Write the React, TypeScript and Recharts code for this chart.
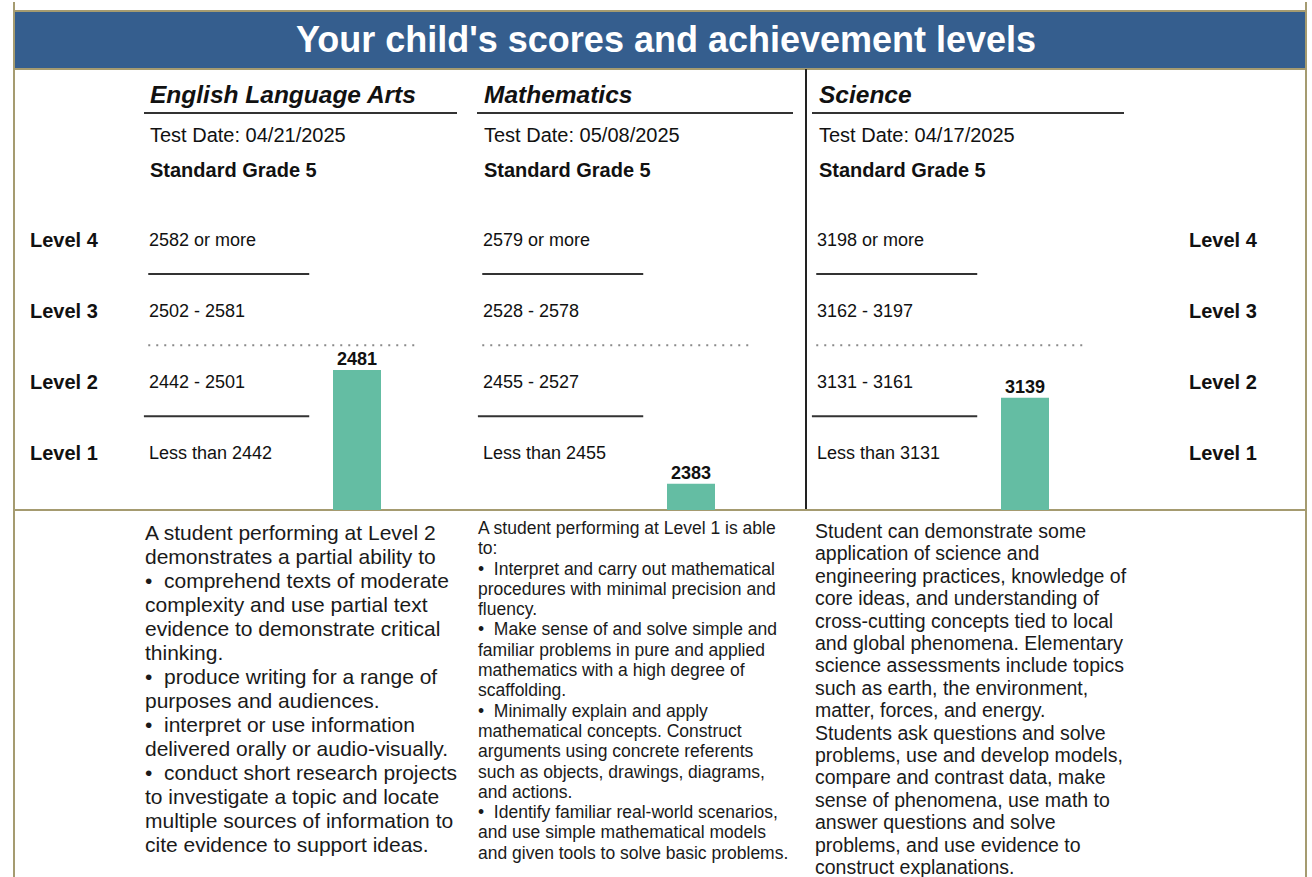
import { ComposedChart, Bar, XAxis, YAxis, ReferenceLine, LabelList } from "recharts";

const SUBJECTS = ["English Language Arts", "Mathematics", "Science"];
const TEST_DATES = ["04/21/2025", "05/08/2025", "04/17/2025"];
const GRADE_LABEL = "Standard Grade 5";
const SCORES = [2481, 2383, 3139];
// first score of level 2, 3 and 4 for each subject
const CUT_SCORES = [
  [2442, 2502, 2582],
  [2455, 2528, 2579],
  [3131, 3162, 3198],
];
// bottom of the level 1 band (estimated, not printed)
const SCALE_FLOORS = [2363, 2355, 3090];
const LEVELS = ["Level 1", "Level 2", "Level 3", "Level 4"];
const RANGE_LABELS = [
  ["Less than 2442", "2442 - 2501", "2502 - 2581", "2582 or more"],
  ["Less than 2455", "2455 - 2527", "2528 - 2578", "2579 or more"],
  ["Less than 3131", "3131 - 3161", "3162 - 3197", "3198 or more"],
];
const DESCRIPTIONS = [
  [
    "A student performing at Level 2",
    "demonstrates a partial ability to",
    "•  comprehend texts of moderate",
    "complexity and use partial text",
    "evidence to demonstrate critical",
    "thinking.",
    "•  produce writing for a range of",
    "purposes and audiences.",
    "•  interpret or use information",
    "delivered orally or audio-visually.",
    "•  conduct short research projects",
    "to investigate a topic and locate",
    "multiple sources of information to",
    "cite evidence to support ideas.",
  ],
  [
    "A student performing at Level 1 is able",
    "to:",
    "•  Interpret and carry out mathematical",
    "procedures with minimal precision and",
    "fluency.",
    "•  Make sense of and solve simple and",
    "familiar problems in pure and applied",
    "mathematics with a high degree of",
    "scaffolding.",
    "•  Minimally explain and apply",
    "mathematical concepts. Construct",
    "arguments using concrete referents",
    "such as objects, drawings, diagrams,",
    "and actions.",
    "•  Identify familiar real-world scenarios,",
    "and use simple mathematical models",
    "and given tools to solve basic problems.",
  ],
  [
    "Student can demonstrate some",
    "application of science and",
    "engineering practices, knowledge of",
    "core ideas, and understanding of",
    "cross-cutting concepts tied to local",
    "and global phenomena. Elementary",
    "science assessments include topics",
    "such as earth, the environment,",
    "matter, forces, and energy.",
    "Students ask questions and solve",
    "problems, use and develop models,",
    "compare and contrast data, make",
    "sense of phenomena, use math to",
    "answer questions and solve",
    "problems, and use evidence to",
    "construct explanations.",
  ],
];

const FONT = '"Liberation Sans", Arial, sans-serif';
const BLUE = "#355e8e";
const KHAKI = "#a59b70";
const BAR = "#64bda3";

// level 1 band is drawn taller than the others (in level units)
const L1_SPAN = 1.32;
const TOP = L1_SPAN + 3;

function levelPos(score: number, cuts: number[], floor: number) {
  if (score < cuts[0]) return (L1_SPAN * (score - floor)) / (cuts[0] - floor);
  for (let k = 0; k < cuts.length - 1; k++) {
    if (score < cuts[k + 1]) {
      return L1_SPAN + k + (score - cuts[k]) / (cuts[k + 1] - cuts[k]);
    }
  }
  const w = cuts[2] - cuts[1];
  return Math.min(L1_SPAN + 2 + (score - cuts[2]) / w, TOP);
}

const data = SUBJECTS.map((s, i) => ({
  subject: s,
  idx: i,
  score: SCORES[i],
  pos: levelPos(SCORES[i], CUT_SCORES[i], SCALE_FLOORS[i]),
}));

// middle of each level band
const LEVEL_TICKS = LEVELS.map((_, k) => L1_SPAN - 0.5 + k);

const COL_STEP = 334;
const RANGE_X = 149;
const DESC_X = [145, 478, 815];
const DESC_STYLE = [
  { top: 521, fontSize: 21, lineHeight: "24px" },
  { top: 518, fontSize: 17.5, lineHeight: "20.3px" },
  { top: 520, fontSize: 19.5, lineHeight: "22.4px" },
];
const TITLE_X = [150, 484, 819];
const UNDERLINE = [
  [144, 457],
  [477, 793],
  [812, 1124],
];

// eslint-disable-next-line @typescript-eslint/no-explicit-any
function LevelTick({ y, index }: any) {
  const k = index as number;
  return (
    <g fontFamily={FONT}>
      <text x={30} y={y + 1.5} dominantBaseline="central" fontSize={20} fontWeight="bold" fill="#111">
        {LEVELS[k]}
      </text>
      <text x={1189} y={y + 1.5} dominantBaseline="central" fontSize={20} fontWeight="bold" fill="#111">
        {LEVELS[k]}
      </text>
      {RANGE_LABELS.map((r, i) => (
        <text
          key={i}
          x={RANGE_X + COL_STEP * i}
          y={y + 1.5}
          dominantBaseline="central"
          fontSize={18}
          fill="#111"
        >
          {r[k]}
        </text>
      ))}
    </g>
  );
}

const abs = (style: React.CSSProperties): React.CSSProperties => ({
  position: "absolute",
  ...style,
});

export default function App() {
  // level boundary rules per subject, x offsets from the column centre
  const rules = [
    { k: 0, from: -0.638, to: -0.143, dashed: false },
    { k: 1, from: -0.625, to: 0.189, dashed: true },
    { k: 2, from: -0.625, to: -0.143, dashed: false },
  ];

  return (
    <div
      style={abs({
        left: 0,
        top: 0,
        width: 1312,
        height: 877,
        background: "#fff",
        fontFamily: FONT,
        color: "#111",
        overflow: "hidden",
      })}
    >
      {/* frame */}
      <div style={abs({ left: 13, top: 2, width: 2, height: 875, background: KHAKI })} />
      <div style={abs({ left: 1305, top: 2, width: 2, height: 875, background: KHAKI })} />
      <div style={abs({ left: 14, top: 10, width: 1292, height: 2, background: KHAKI })} />
      <div
        style={abs({
          left: 15,
          top: 12,
          width: 1290,
          height: 56,
          background: BLUE,
          color: "#fff",
          fontSize: 36,
          fontWeight: "bold",
          lineHeight: "56px",
          textAlign: "center",
          paddingLeft: 12,
          boxSizing: "border-box",
        })}
      >
        Your child's scores and achievement levels
      </div>
      <div style={abs({ left: 14, top: 68, width: 1292, height: 2, background: KHAKI })} />
      <div style={abs({ left: 14, top: 508.5, width: 1292, height: 2, background: KHAKI })} />
      <div style={abs({ left: 805, top: 69, width: 2, height: 440, background: "#222" })} />

      {SUBJECTS.map((s, i) => (
        <div key={s}>
          <div
            style={abs({
              left: TITLE_X[i],
              top: 80,
              fontSize: 24.5,
              fontWeight: "bold",
              fontStyle: "italic",
              lineHeight: "30px",
              whiteSpace: "nowrap",
            })}
          >
            {s}
          </div>
          <div
            style={abs({
              left: UNDERLINE[i][0],
              top: 112,
              width: UNDERLINE[i][1] - UNDERLINE[i][0],
              height: 2,
              background: "#333",
            })}
          />
          <div style={abs({ left: TITLE_X[i], top: 123, fontSize: 20, lineHeight: "24px", whiteSpace: "nowrap" })}>
            Test Date: {TEST_DATES[i]}
          </div>
          <div
            style={abs({
              left: TITLE_X[i],
              top: 158,
              fontSize: 20,
              fontWeight: "bold",
              lineHeight: "24px",
              whiteSpace: "nowrap",
            })}
          >
            {GRADE_LABEL}
          </div>
          <div
            style={abs({
              left: DESC_X[i],
              top: DESC_STYLE[i].top,
              fontSize: DESC_STYLE[i].fontSize,
              lineHeight: DESC_STYLE[i].lineHeight,
              whiteSpace: "pre",
              color: "#1a1a1a",
            })}
          >
            {DESCRIPTIONS[i].join("\n")}
          </div>
        </div>
      ))}

      <div style={abs({ left: 0, top: 0 })}>
        <ComposedChart
          width={1312}
          height={510}
          data={data}
          margin={{ top: 203, right: 120, bottom: 0, left: 14 }}
        >
          <XAxis xAxisId="cat" dataKey="subject" type="category" hide />
          <XAxis
            xAxisId="col"
            dataKey="idx"
            type="number"
            domain={[-0.5, 2.5]}
            allowDataOverflow
            hide
          />
          <YAxis
            domain={[0, TOP]}
            allowDataOverflow
            ticks={LEVEL_TICKS}
            width={176}
            axisLine={false}
            tickLine={false}
            tick={<LevelTick />}
            interval={0}
          />
          {data.map((d) =>
            rules.map((r) => (
              <ReferenceLine
                key={`${d.idx}-${r.k}`}
                xAxisId="col"
                ifOverflow="visible"
                segment={[
                  { x: d.idx + r.from, y: L1_SPAN + r.k },
                  { x: d.idx + r.to, y: L1_SPAN + r.k },
                ]}
                stroke={r.dashed ? "#8a8a8a" : "#333"}
                strokeWidth={2}
                strokeDasharray={r.dashed ? "2 6" : undefined}
              />
            )),
          )}
          <Bar xAxisId="cat" dataKey="pos" fill={BAR} barSize={48} isAnimationActive={false}>
            <LabelList
              dataKey="score"
              position="top"
              offset={5}
              fill="#111"
              fontSize={18}
              fontWeight="bold"
              fontFamily={FONT}
            />
          </Bar>
        </ComposedChart>
      </div>
    </div>
  );
}
